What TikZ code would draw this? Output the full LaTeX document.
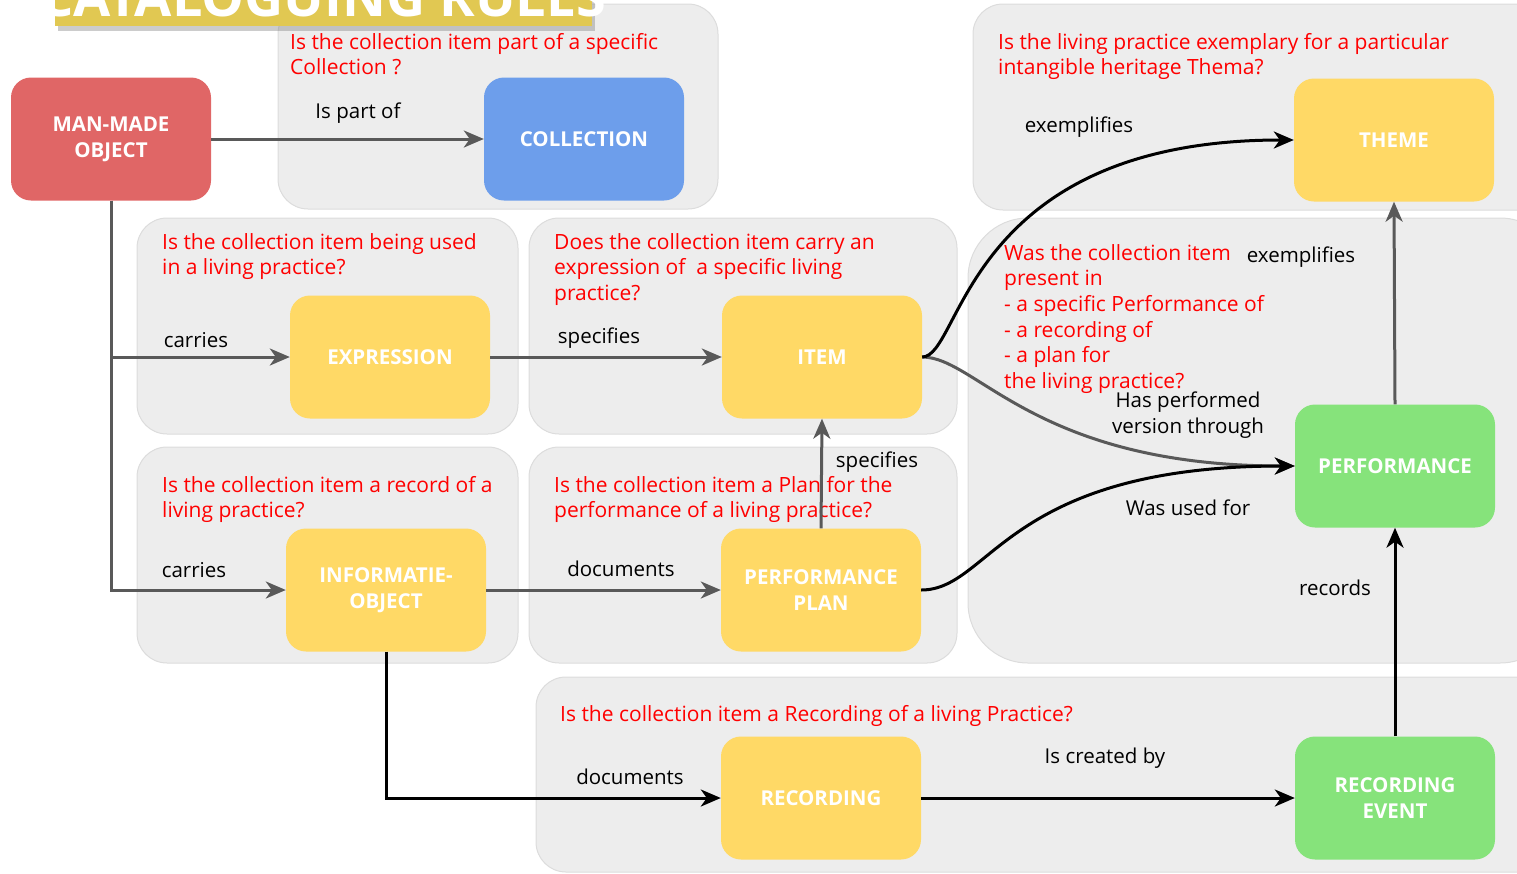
\documentclass[tikz,border=0pt]{standalone}
\usepackage{fontspec}
\setmainfont{Open Sans}
\usepackage{tikz}
\usetikzlibrary{shapes.geometric, arrows.meta, calc, positioning, shadows}
\definecolor{panelgray}{HTML}{EDEDED}
\definecolor{panelline}{HTML}{DCDCDC}
\definecolor{arrowgray}{HTML}{595959}
\definecolor{objred}{HTML}{E06666}
\definecolor{colblue}{HTML}{6D9EEB}
\definecolor{itemyellow}{HTML}{FFD966}
\definecolor{perfgreen}{HTML}{86E37B}
\definecolor{titlegold}{HTML}{E1C852}
\definecolor{questred}{HTML}{FF0000}
\tikzstyle{entity} = [rectangle, rounded corners=20pt, minimum width=200pt, minimum height=123pt, text width=190pt, align=center, text=white, font=\fontsize{20.5}{26}\selectfont\bfseries]
\tikzstyle{panel} = [fill=panelgray, draw=panelline, line width=1pt, rounded corners=30pt]
\tikzstyle{question} = [anchor=north west, inner sep=0pt, align=left, text=questred, font=\fontsize{21}{25.7}\selectfont]
\tikzstyle{rel} = [inner sep=0pt, align=center, font=\fontsize{20.5}{26}\selectfont]
\tikzstyle{arrow} = [line width=3pt, arrowgray, -{Stealth[length=20pt,width=17pt,inset=6pt]}]
\tikzstyle{blackarrow} = [arrow, black]

\begin{document}
\begin{tikzpicture}[x=1pt, y=-1pt]
	\useasboundingbox (0,0) rectangle (1517,873);
	\draw[panel] (278,4) rectangle (718,209);
	\draw[panel] (973,4) rectangle (1560,210);
	\draw[panel] (137,218) rectangle (518,434);
	\draw[panel] (529,218) rectangle (957,434);
	\draw[panel] (137,447) rectangle (518,663);
	\draw[panel] (529,447) rectangle (957,663);
	\draw[panel, rounded corners=60pt] (968,218) rectangle (1560,663);
	\draw[panel] (536,677) rectangle (1560,872);

	\fill[titlegold, drop shadow={shadow xshift=3pt, shadow yshift=-5pt, opacity=0.4}] (55,-50) rectangle (592,26);
	\node (Title) [anchor=base, inner sep=0pt, text=white, font=\fontsize{54}{60}\selectfont\bfseries] at (323,16) {CATALOGUING RULES};

	\node (QCollection) [question] at (290,33) {Is the collection item part of a specific\\Collection ?};
	\node (QTheme) [question] at (998,33) {Is the living practice exemplary for a particular\\intangible heritage Thema?};
	\node (QExpression) [question] at (162,233) {Is the collection item being used\\in a living practice?};
	\node (QItem) [question] at (554,233) {Does the collection item carry an\\expression of~ a specific living\\practice?};
	\node (QInformatie) [question] at (162,476) {Is the collection item a record of a\\living practice?};
	\node (QPlan) [question] at (554,476) {Is the collection item a Plan for the\\performance of a living practice?};
	\node (QPerformance) [question] at (1004,244) {Was the collection item\\present in\\- a specific Performance of\\- a recording of\\- a plan for\\the living practice?};
	\node (QRecording) [question] at (560,705) {Is the collection item a Recording of a living Practice?};

	\node (ManMade) [entity, fill=objred] at (111,139) {MAN-MADE\\OBJECT};
	\node (Collection) [entity, fill=colblue] at (584,139) {COLLECTION};
	\node (Theme) [entity, fill=itemyellow] at (1394,140) {THEME};
	\node (Expression) [entity, fill=itemyellow] at (390,357) {EXPRESSION};
	\node (Item) [entity, fill=itemyellow] at (822,357) {ITEM};
	\node (Informatie) [entity, fill=itemyellow] at (386,590) {INFORMATIE-\\OBJECT};
	\node (PerfPlan) [entity, fill=itemyellow] at (821,590) {PERFORMANCE\\PLAN};
	\node (Performance) [entity, fill=perfgreen] at (1395,466) {PERFORMANCE};
	\node (Recording) [entity, fill=itemyellow] at (821,798) {RECORDING};
	\node (RecEvent) [entity, fill=perfgreen] at (1395,798) {RECORDING\\EVENT};

	\draw[arrow] (ManMade.east) -- (Collection.west);
	\draw[arrow] (ManMade.south) |- (Expression.west);
	\draw[arrow] (ManMade.south) |- (Informatie.west);
	\draw[arrow] (Expression.east) -- (Item.west);
	\draw[arrow] (Informatie.east) -- (PerfPlan.west);
	\draw[arrow] (PerfPlan.north) -- (Item.south);
	\draw[arrow] (Item.east) .. controls +(55,0) and +(-260,0) .. (Performance.west);
	\draw[arrow] (Performance.north) -- (Theme.south);
	\draw[blackarrow] (Item.east) .. controls +(40,0) and +(-330,0) .. (Theme.west);
	\draw[blackarrow] (PerfPlan.east) .. controls +(70,0) and +(-290,0) .. (Performance.west);
	\draw[blackarrow] (Informatie.south) |- (Recording.west);
	\draw[blackarrow] (Recording.east) -- (RecEvent.west);
	\draw[blackarrow] (RecEvent.north) -- (Performance.south);

	\node (LPartOf) [rel] at (358,113) {Is part of};
	\node (LCarriesA) [rel] at (196,340) {carries};
	\node (LCarriesB) [rel] at (194,570) {carries};
	\node (LSpecifiesA) [rel] at (599,338) {specifies};
	\node (LDocumentsA) [rel] at (621,569) {documents};
	\node (LSpecifiesB) [rel] at (877,462) {specifies};
	\node (LDocumentsB) [rel] at (630,777) {documents};
	\node (LCreated) [rel] at (1105,758) {Is created by};
	\node (LRecords) [rel] at (1335,588) {records};
	\node (LExemplifiesA) [rel] at (1301,257) {exemplifies};
	\node (LExemplifiesB) [rel] at (1079,127) {exemplifies};
	\node (LPerformed) [rel] at (1188,415) {Has performed\\version through};
	\node (LUsed) [rel] at (1188,508) {Was used for};
\end{tikzpicture}
\end{document}
